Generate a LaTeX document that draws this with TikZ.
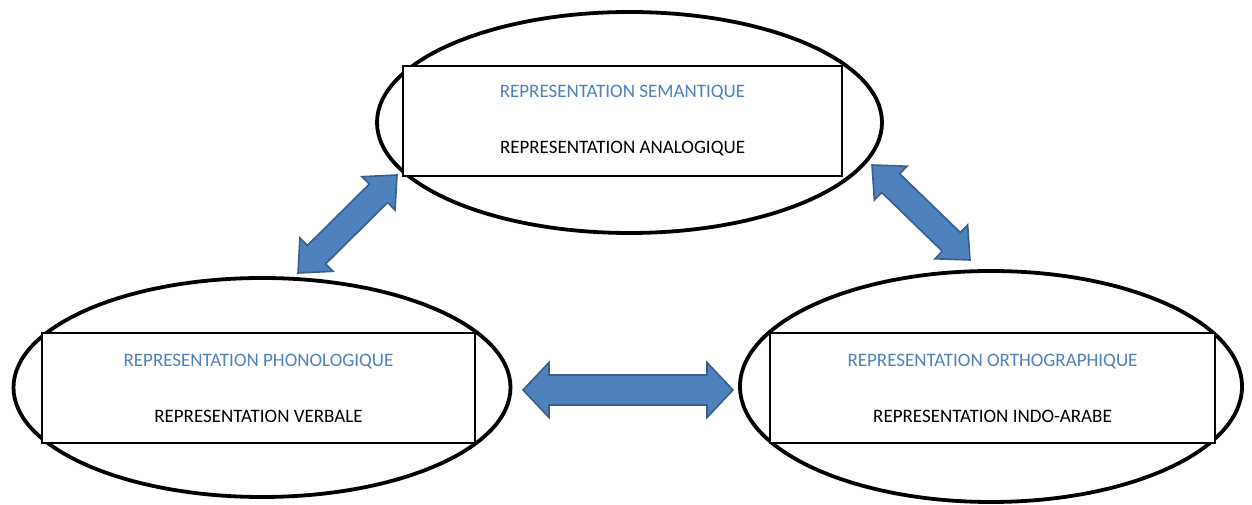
\documentclass[tikz,border=0pt]{standalone}
\usepackage{fontspec}
\setmainfont{Carlito}
\usetikzlibrary{shapes.geometric,calc}
\definecolor{accentblue}{HTML}{4F81BD}
\definecolor{arrowedge}{HTML}{3A5F8C}

\tikzset{
  head len/.store in=\hdlen,
  head half/.store in=\hdhalf,
  shaft half/.store in=\shhalf,
  head len=26, head half=27.5, shaft half=15,
  % outer ring around each group
  ring/.style={ellipse, draw, line width=3.8pt, inner sep=0pt},
  % framed text box inside a ring
  textbox/.style={rectangle, draw, fill=white, line width=1.8pt,
    align=center, font=\fontsize{19}{23}\selectfont, inner sep=0pt},
  % block double arrow drawn between two tip coordinates
  fatarrow/.style={fill=accentblue, draw=arrowedge, line width=1.6pt,
    line join=miter,
    to path={let \p1=(\tikztostart), \p2=(\tikztotarget),
      \n1={atan2(\y2-\y1,\x2-\x1)},
      \n2={veclen(\x2-\x1,\y2-\y1)},
      \n3={atan2(\hdhalf,\hdlen)},
      \n4={veclen(\hdlen,\hdhalf)},
      \n5={\hdhalf-\shhalf}
      in (\p1) -- ++(\n1+\n3:\n4) -- ++(\n1-90:\n5)
      -- ++(\n1:{\n2-2*\hdlen}) -- ++(\n1+90:\n5) -- (\p2)
      -- ++(\n1+180+\n3:\n4) -- ++(\n1+90:\n5)
      -- ++(\n1+180:{\n2-2*\hdlen}) -- ++(\n1-90:\n5) -- cycle}},
  diag/.style={head len=26, head half=23.5, shaft half=13}
}

\begin{document}
\begin{tikzpicture}[x=1pt,y=1pt]
\useasboundingbox (0,0) rectangle (1252,505);

% rings
\node[ring, minimum width=505pt, minimum height=221pt] (sem) at (629.5,382.5) {};
\node[ring, minimum width=497pt, minimum height=219pt] (phon) at (262,117.5) {};
\node[ring, minimum width=502pt, minimum height=231pt] (ortho) at (991,118.5) {};

% framed labels
\node[textbox, minimum width=439pt, minimum height=110pt] (semtxt) at (622.5,384)
  {\textcolor{accentblue}{REPRESENTATION SEMANTIQUE}\\[33pt]REPRESENTATION ANALOGIQUE};
\node[textbox, minimum width=433pt, minimum height=110pt] (phontxt) at (258.5,117)
  {\textcolor{accentblue}{REPRESENTATION PHONOLOGIQUE}\\[33pt]REPRESENTATION VERBALE};
\node[textbox, minimum width=445pt, minimum height=110pt] (orthotxt) at (992.5,117)
  {\textcolor{accentblue}{REPRESENTATION ORTHOGRAPHIQUE}\\[33pt]REPRESENTATION INDO-ARABE};

% arrow tips
\coordinate (phon-r) at (523,115);
\coordinate (ortho-l) at (733,115);
\coordinate (sem-sw) at (397,330);
\coordinate (phon-ne) at (298,232);
\coordinate (sem-se) at (872,340);
\coordinate (ortho-nw) at (970,245);

% links
\draw[fatarrow] (phon-r) to (ortho-l);
\draw[fatarrow, diag] (phon-ne) to (sem-sw);
\draw[fatarrow, diag] (sem-se) to (ortho-nw);
\end{tikzpicture}
\end{document}
